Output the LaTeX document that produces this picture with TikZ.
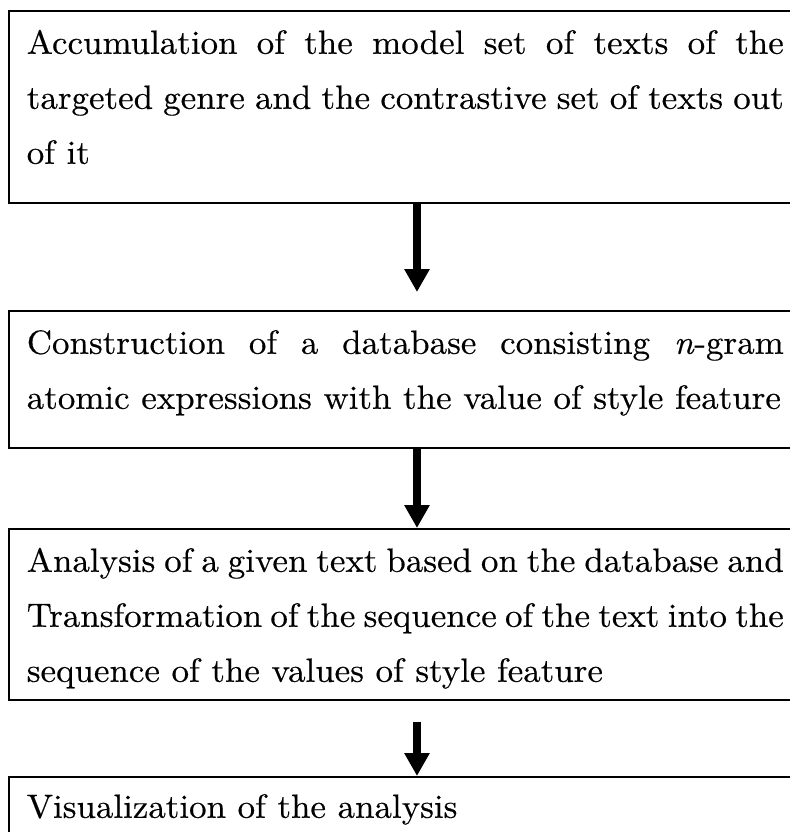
\documentclass[tikz,border=0pt]{standalone}
\usepackage{fontspec}
\setmainfont{lmroman10-regular.otf}[FakeStretch=1.04, FakeBold=0.4, ItalicFont=lmroman10-italic.otf]
\usetikzlibrary{arrows.meta}
\newcommand\hautstrut[1]{\rule{0pt}{#1}}
\newcommand\basstrut[1]{\rule[-#1]{0pt}{#1}}
\begin{document}
\begin{tikzpicture}[x=0.5pt,y=-0.5pt,
  cadre/.style={draw, line width=0.8pt, anchor=north west, inner xsep=9pt, inner ysep=0pt,
    text width=378.5pt, align=justify, font=\fontsize{16.8}{27.5}\selectfont},
  fleche/.style={line width=4pt, -{Triangle[width=12pt,length=11.5pt]}}]

\def\X{417}
\useasboundingbox (0,0) rectangle (790,832);
\clip (0,0) rectangle (790,832);

% Cadres
  \node[cadre] (accum) at (8,10) {\hautstrut{21.5pt}Accumulation of the model set of texts of the\linebreak targeted genre and the contrastive set of texts out\linebreak of it\basstrut{19.5pt}};
  \node[cadre] (base) at (8,310) {\hautstrut{21.5pt}Construction of a database consisting \textit{n}-gram\linebreak atomic expressions with the value of style feature\basstrut{19.5pt}};
  \node[cadre] (analyse) at (8,528) {\hautstrut{21.5pt}Analysis of a given text based on the database and\linebreak Transformation of the sequence of the text into the\linebreak sequence of the values of style feature\basstrut{9pt}};
  \node[cadre] (visu) at (8,776) {\hautstrut{20.5pt}Visualization of the analysis\basstrut{20pt}};

% Fleches
  \coordinate (ax) at (\X,0);
  \draw[fleche, shorten >=9pt] (accum.south -| ax) -- (base.north -| ax);
  \draw[fleche] (base.south -| ax) -- (analyse.north -| ax);
  \draw[fleche, shorten <=10.5pt] (analyse.south -| ax) -- (visu.north -| ax);
\end{tikzpicture}
\end{document}
